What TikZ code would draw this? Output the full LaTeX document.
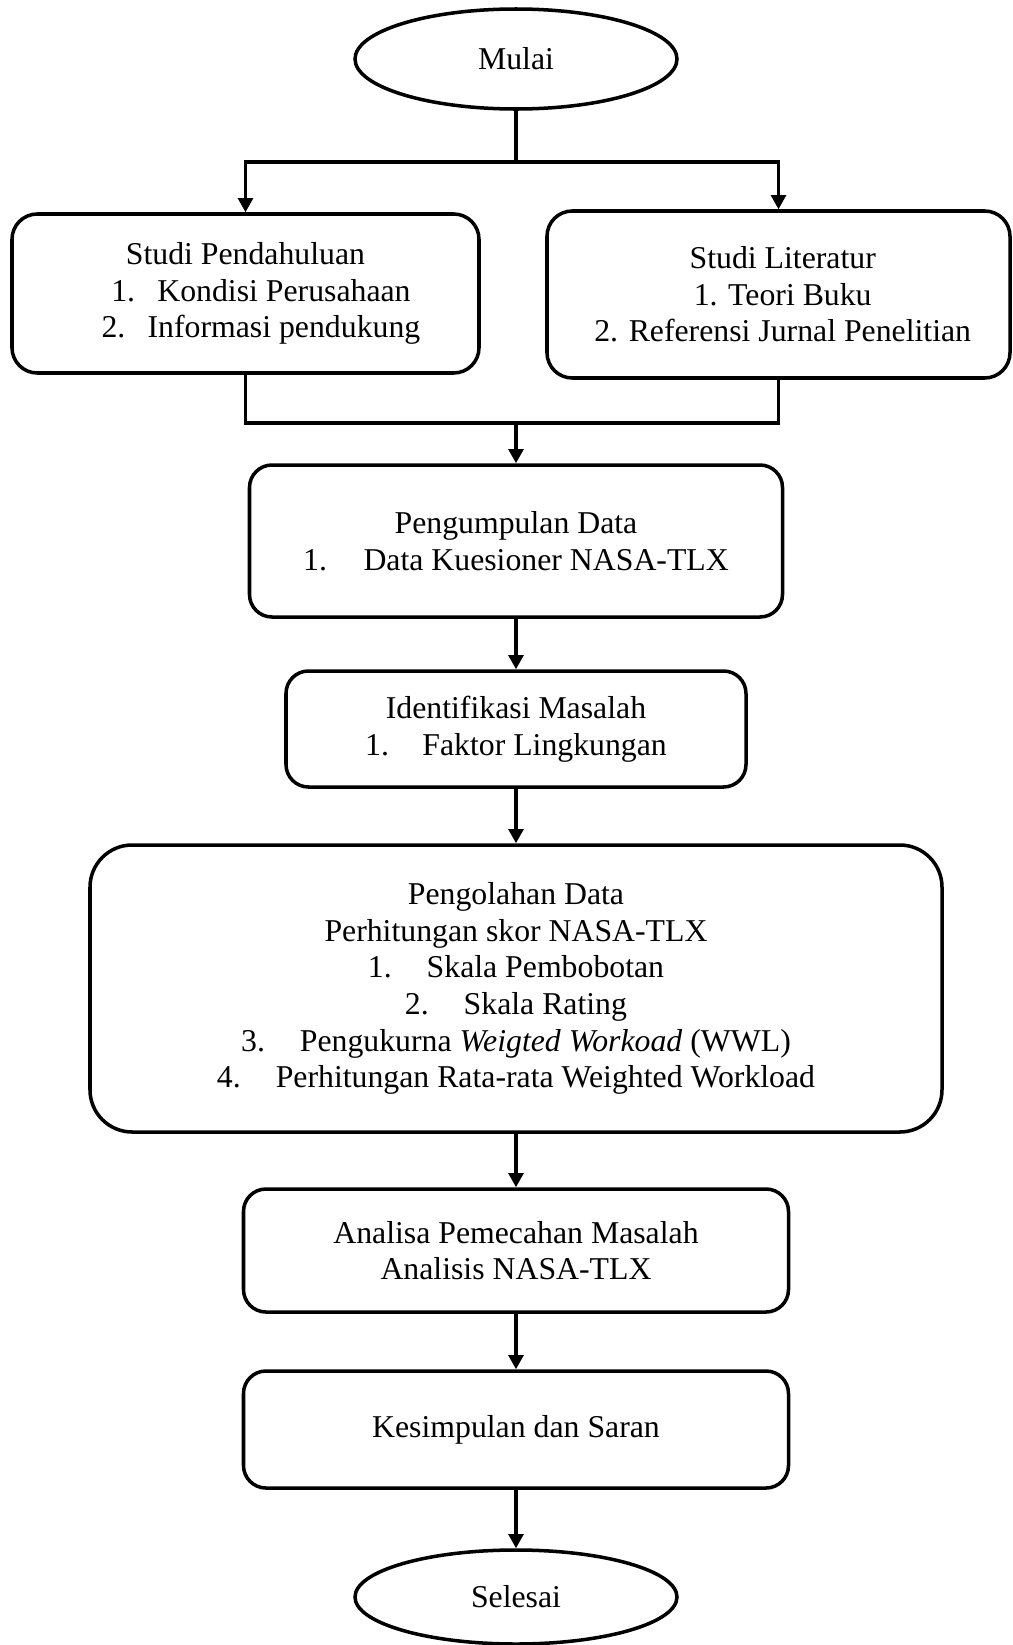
\documentclass[tikz,border=0pt]{standalone}
\usepackage{fontspec}
\setmainfont{Liberation Serif}
\usetikzlibrary{shapes.geometric,arrows.meta}
\begin{document}
\begin{tikzpicture}[line width=2.2pt,font=\fontsize{22.6}{26.1}\selectfont,
  box/.style={draw,rounded corners=16pt,align=center,line width=2.5pt,inner sep=0pt},
  oval/.style={draw,ellipse,align=center,line width=2.5pt,inner sep=0pt,minimum width=8.05cm},
  arr/.style={-{Triangle[length=10pt,width=10.5pt]}}]
\useasboundingbox (0,0) rectangle (25.3,-41.125);
\node[oval,minimum height=2.5cm] (mulai) at (12.9,-1.475) {Mulai};
\node[box,rounded corners=18pt,minimum width=11.675cm,minimum height=3.975cm] (studi1) at (6.1375,-7.3375)
  {Studi Pendahuluan\\\hspace*{22pt}1.\hspace{0.7em}Kondisi Perusahaan\\\hspace*{22pt}2.\hspace{0.7em}Informasi pendukung};
\node[box,rounded corners=18pt,minimum width=11.575cm,minimum height=4.175cm] (studi2) at (19.4625,-7.3625)
  {\hspace*{6pt}Studi Literatur\\\hspace*{6pt}1. Teori Buku\\\hspace*{6pt}2. Referensi Jurnal Penelitian};
\node[box,minimum width=13.325cm,minimum height=3.8cm] (kumpul) at (12.9,-13.525)
  {Pengumpulan Data\\1.\hspace{1.15em}Data Kuesioner NASA-TLX};
\node[box,minimum width=11.5cm,minimum height=2.9cm] (identifikasi) at (12.9,-18.225)
  {Identifikasi Masalah\\1.\hspace{1.05em}Faktor Lingkungan};
\node[box,rounded corners=30pt,minimum width=21.3cm,minimum height=7.175cm] (olah) at (12.9,-24.7125)
  {Pengolahan Data\\Perhitungan skor NASA-TLX\\1.\hspace{1.1em}Skala Pembobotan\\2.\hspace{1.1em}Skala Rating\\
   3.\hspace{1.1em}Pengukurna \textit{Weigted Workoad} (WWL)\\4.\hspace{1.1em}Perhitungan Rata-rata Weighted Workload};
\node[box,minimum width=13.625cm,minimum height=3.075cm] (analisa) at (12.9,-31.2625)
  {Analisa Pemecahan Masalah\\Analisis NASA-TLX};
\node[box,minimum width=13.625cm,minimum height=2.925cm] (simpul) at (12.9,-35.7375)
  {Kesimpulan dan Saran};
\node[oval,minimum height=2.35cm] (selesai) at (12.9,-39.925) {Selesai};
% cabang dan gabung
\coordinate (cabang) at (12.9,-4.05);
\coordinate (gabung) at (12.9,-10.575);
\draw (mulai) -- (cabang);
\draw[arr] (cabang) -| (studi1.north);
\draw[arr] (cabang) -| (studi2.north);
\draw (studi1.south) |- (gabung) -| (studi2.south);
\draw[arr] (gabung) -- (kumpul);
\draw[arr] (kumpul) -- (identifikasi);
\draw[arr] (identifikasi) -- (olah);
\draw[arr] (olah) -- (analisa);
\draw[arr] (analisa) -- (simpul);
\draw[arr] (simpul) -- (selesai);
\end{tikzpicture}
\end{document}
